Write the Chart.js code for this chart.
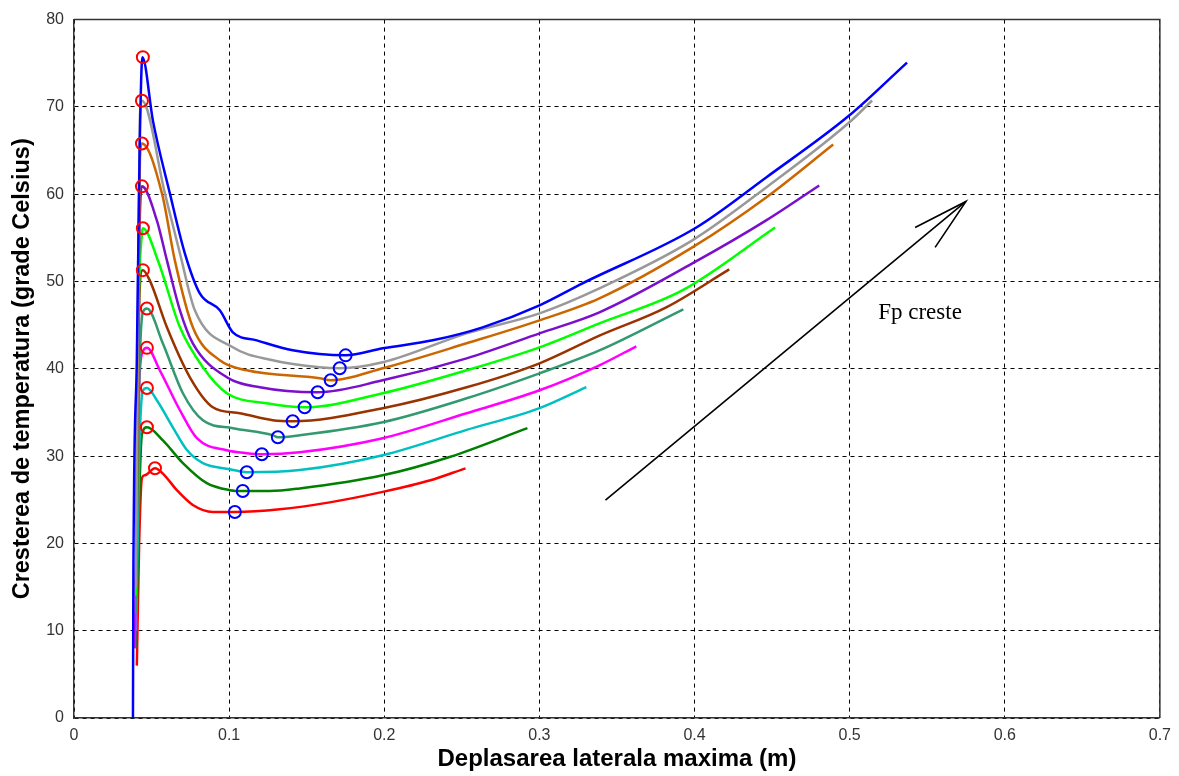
<!DOCTYPE html>
<html>
<head>
<meta charset="utf-8">
<script src="https://cdn.jsdelivr.net/npm/chart.js@4.4.1/dist/chart.umd.min.js"></script>
<style>
  html, body { margin: 0; padding: 0; background: #fff; }
  #wrap { width: 1179px; height: 776px; position: relative; }
</style>
</head>
<body>
<div id="wrap"><canvas id="chart"></canvas></div>
<script>
// curves, bottom (red) to top (blue)
const redX = [0.0405, 0.042, 0.0438, 0.0457, 0.0522, 0.0573, 0.0663, 0.0766, 0.0895, 0.1037, 0.1326, 0.1648, 0.199, 0.2292, 0.2524];
const redY = [6, 20, 27.5, 27.8, 28.6, 28.0, 26.1, 24.4, 23.6, 23.6, 23.9, 24.7, 25.9, 27.2, 28.6];

const dgreenX = [0.040, 0.042, 0.0438, 0.047, 0.0573, 0.0702, 0.0856, 0.1005, 0.1088, 0.1262, 0.1455, 0.199, 0.2421, 0.2923];
const dgreenY = [8, 25, 32.5, 33.3, 31.8, 29.2, 26.9, 26.1, 26.0, 26.0, 26.3, 27.8, 29.9, 33.2];

const cyanX = [0.040, 0.042, 0.0444, 0.047, 0.0534, 0.0637, 0.0728, 0.0831, 0.1005, 0.1114, 0.1455, 0.199, 0.2531, 0.3001, 0.3303];
const cyanY = [10, 30, 37.5, 37.8, 36.4, 33.3, 30.7, 29.2, 28.5, 28.15, 28.4, 30.1, 33.0, 35.5, 37.9];

const magentaX = [0.0393, 0.0415, 0.0444, 0.047, 0.0554, 0.0683, 0.0792, 0.0985, 0.1114, 0.1211, 0.1455, 0.199, 0.2531, 0.3001, 0.3387, 0.3625];
const magentaY = [8, 35, 42, 42.4, 39.8, 35.25, 32.05, 30.67, 30.33, 30.21, 30.44, 32.05, 34.91, 37.54, 40.4, 42.58];

const seaX = [0.040, 0.042, 0.0444, 0.047, 0.0573, 0.0702, 0.0831, 0.1024, 0.1281, 0.1314, 0.1455, 0.199, 0.2531, 0.3001, 0.3387, 0.3928];
const seaY = [12, 38, 46.5, 46.9, 42.9, 37.2, 34.1, 33.2, 32.4, 32.16, 32.39, 33.88, 36.62, 39.48, 42.1, 46.81];

const brownX = [0.040, 0.0415, 0.0431, 0.0444, 0.0489, 0.0599, 0.0747, 0.0895, 0.1069, 0.1281, 0.141, 0.199, 0.2531, 0.3001, 0.3387, 0.3818, 0.4224];
const brownY = [14, 42, 51, 51.3, 50.1, 44.75, 39.03, 35.6, 34.91, 34.11, 33.99, 35.48, 37.88, 40.63, 43.8, 47.04, 51.39];

const greenX = [0.040, 0.0415, 0.0438, 0.0444, 0.0541, 0.0683, 0.0831, 0.0985, 0.1243, 0.1487, 0.199, 0.2531, 0.3001, 0.3387, 0.3921, 0.452];
const greenY = [14, 45, 55.5, 56.1, 52.4, 44.75, 40.17, 37.2, 36.05, 35.59, 37.2, 39.83, 42.46, 45.21, 48.98, 56.19];

const purpleX = [0.040, 0.0415, 0.0431, 0.0438, 0.0534, 0.0599, 0.0683, 0.0766, 0.0985, 0.1198, 0.1571, 0.199, 0.2531, 0.3001, 0.3387, 0.3986, 0.4462, 0.4804];
const purpleY = [15, 48, 60.3, 60.9, 57.0, 52.42, 46.7, 42.92, 39.03, 37.88, 37.31, 38.68, 41.2, 44.06, 46.47, 52.07, 57.0, 61.0];

const orangeX = [0.040, 0.0415, 0.0425, 0.0438, 0.0567, 0.065, 0.0766, 0.094, 0.1114, 0.1584, 0.1655, 0.199, 0.2531, 0.3001, 0.3387, 0.3986, 0.4462, 0.4894];
const orangeY = [15, 50, 64, 65.8, 60.09, 52.42, 44.75, 40.97, 39.83, 38.91, 38.68, 40.06, 42.92, 45.55, 48.07, 53.91, 59.63, 65.69];

const grayX = [0.040, 0.0415, 0.0425, 0.0438, 0.0586, 0.0683, 0.0779, 0.1024, 0.1281, 0.1584, 0.1713, 0.199, 0.2531, 0.3001, 0.3387, 0.3986, 0.4462, 0.4997, 0.5145];
const grayY = [15, 55, 69, 70.7, 60.09, 53.2, 46.7, 42.46, 40.97, 40.17, 40.06, 40.74, 44.06, 46.35, 49.21, 54.71, 60.77, 68.21, 70.73];

const blueX = [0.038, 0.0383, 0.0405, 0.0423, 0.0441, 0.0509, 0.0618, 0.0715, 0.0811, 0.094, 0.1024, 0.1178, 0.141, 0.1751, 0.199, 0.2312, 0.2634, 0.3001, 0.3278, 0.4012, 0.4462, 0.4997, 0.537];
const blueY = [0, 17, 41, 65, 75.7, 68.4, 60.09, 53.2, 48.64, 46.7, 44.18, 43.26, 42.12, 41.54, 42.35, 43.26, 44.75, 47.27, 49.79, 56.19, 61.92, 69.01, 75.08];

// red circles (maxima) and blue circles (minima)
const peakX = [0.0522, 0.047, 0.047, 0.047, 0.047, 0.0444, 0.0444, 0.0438, 0.0438, 0.0438, 0.0444];
const peakY = [28.6, 33.3, 37.8, 42.4, 46.9, 51.3, 56.1, 60.9, 65.8, 70.7, 75.7];
const minX = [0.1037, 0.1088, 0.1114, 0.1211, 0.1314, 0.141, 0.1487, 0.1571, 0.1655, 0.1713, 0.1751];
const minY = [23.6, 26.0, 28.15, 30.21, 32.16, 33.99, 35.59, 37.31, 38.68, 40.06, 41.54];

// arrow "Fp creste"
const arrowX = [0.3426, 0.575];
const arrowY = [24.95, 59.17];
const headX = [0.5422, 0.575, 0.5551];
const headY = [56.19, 59.17, 53.91];

const xTickLabels = ['0', '0.1', '0.2', '0.3', '0.4', '0.5', '0.6', '0.7'];
const yTickLabels = ['0', '10', '20', '30', '40', '50', '60', '70', '80'];

const zip = (xs, ys) => xs.map((x, i) => ({ x, y: ys[i] }));

const curves = [
  { x: redX, y: redY, color: '#ff0000' },
  { x: dgreenX, y: dgreenY, color: '#008000' },
  { x: cyanX, y: cyanY, color: '#00c0c0' },
  { x: magentaX, y: magentaY, color: '#ff00ff' },
  { x: seaX, y: seaY, color: '#339970' },
  { x: brownX, y: brownY, color: '#993300' },
  { x: greenX, y: greenY, color: '#00ff00' },
  { x: purpleX, y: purpleY, color: '#7a10cc' },
  { x: orangeX, y: orangeY, color: '#cc6600' },
  { x: grayX, y: grayY, color: '#999999' },
  { x: blueX, y: blueY, color: '#0000ff' },
];

const datasets = curves.map((c, i) => ({
  data: zip(c.x, c.y),
  borderColor: c.color,
  borderWidth: 2.5,
  pointRadius: 0,
  cubicInterpolationMode: 'monotone',
  order: 20 - i,
}));

datasets.push({
  data: zip(peakX, peakY),
  showLine: false,
  pointRadius: 6,
  pointBorderWidth: 2,
  pointBorderColor: '#ff0000',
  pointBackgroundColor: 'rgba(0,0,0,0)',
  order: 1,
});
datasets.push({
  data: zip(minX, minY),
  showLine: false,
  pointRadius: 6,
  pointBorderWidth: 2,
  pointBorderColor: '#0000ff',
  pointBackgroundColor: 'rgba(0,0,0,0)',
  order: 1,
});
datasets.push({
  data: zip(arrowX, arrowY),
  borderColor: '#000',
  borderWidth: 1.6,
  pointRadius: 0,
  order: 2,
});
datasets.push({
  data: zip(headX, headY),
  borderColor: '#000',
  borderWidth: 1.6,
  pointRadius: 0,
  order: 2,
});

const boxAndText = {
  id: 'boxAndText',
  afterDatasetsDraw(chart) {
    const { ctx, chartArea: a, scales } = chart;
    ctx.save();
    ctx.strokeStyle = '#333';
    ctx.lineWidth = 1.5;
    ctx.beginPath();
    ctx.moveTo(a.left, a.top);
    ctx.lineTo(a.right, a.top);
    ctx.lineTo(a.right, a.bottom);
    ctx.stroke();
    ctx.fillStyle = '#000';
    ctx.font = '23px "Liberation Serif", "Times New Roman", serif';
    ctx.textBaseline = 'alphabetic';
    ctx.textAlign = 'left';
    ctx.fillText('Fp creste', scales.x.getPixelForValue(0.5184), scales.y.getPixelForValue(45.67));
    ctx.restore();
  },
};

new Chart(document.getElementById('chart').getContext('2d'), {
  type: 'line',
  data: { datasets },
  options: {
    responsive: true,
    maintainAspectRatio: false,
    animation: false,
    devicePixelRatio: 1,
    layout: { padding: { top: 19, right: 18, left: 0, bottom: 0 } },
    scales: {
      x: {
        type: 'linear',
        min: 0,
        max: 0.7,
        afterFit: (scale) => { scale.height = 58; },
        ticks: {
          stepSize: 0.1,
          padding: 8,
          color: '#333',
          font: { family: '"Liberation Sans", Arial, sans-serif', size: 16 },
          callback: (value, index) => xTickLabels[index],
        },
        grid: { color: '#000', lineWidth: 1, drawTicks: false },
        border: { display: true, color: '#333', width: 1.5, dash: [4, 4] },
        title: {
          display: true,
          text: 'Deplasarea laterala maxima (m)',
          color: '#000',
          font: { family: '"Liberation Sans", Arial, sans-serif', size: 24, weight: 'bold' },
          padding: { top: 0, bottom: 2 },
        },
      },
      y: {
        type: 'linear',
        min: 0,
        max: 80,
        afterFit: (scale) => { scale.width = 74; },
        ticks: {
          stepSize: 10,
          padding: 10,
          color: '#333',
          font: { family: '"Liberation Sans", Arial, sans-serif', size: 16 },
          callback: (value, index) => yTickLabels[index],
        },
        grid: { color: '#000', lineWidth: 1, drawTicks: false },
        border: { display: true, color: '#333', width: 1.5, dash: [4, 4] },
        title: {
          display: true,
          text: 'Cresterea de temperatura (grade Celsius)',
          color: '#000',
          font: { family: '"Liberation Sans", Arial, sans-serif', size: 23.5, weight: 'bold' },
          padding: { top: 8, bottom: 0 },
        },
      },
    },
    plugins: {
      legend: { display: false },
      tooltip: { enabled: false },
    },
  },
  plugins: [boxAndText],
});
</script>
</body>
</html>
